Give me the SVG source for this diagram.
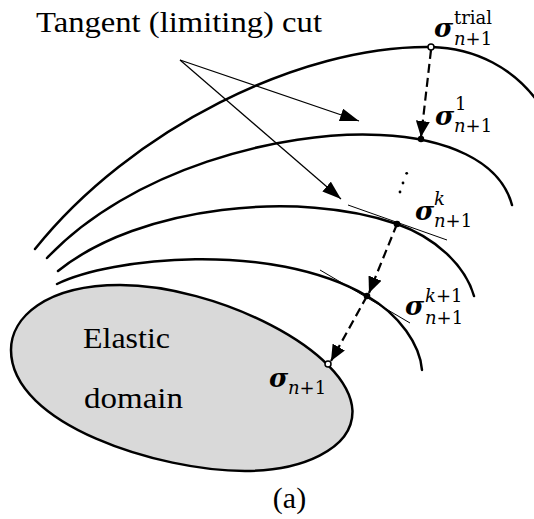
<svg xmlns="http://www.w3.org/2000/svg" width="534" height="519" viewBox="0 0 534 519">
<style>
.curve{fill:none;stroke:#000;stroke-width:2.5;stroke-linecap:round}
.tan{fill:none;stroke:#000;stroke-width:1}
.lead{fill:none;stroke:#000;stroke-width:1.2}
.dash{fill:none;stroke:#000;stroke-width:2.2;stroke-dasharray:9 5}
.txt{font-family:"Liberation Serif","Times New Roman",serif;font-size:30px;fill:#000}
.sig{font-family:"DejaVu Serif",serif;font-weight:bold;font-style:italic;font-size:26px;fill:#000}
.scr{font-family:"DejaVu Serif",serif;font-size:18px;fill:#000}
.it{font-style:italic}
</style>
<defs>
<marker id="ah" viewBox="0 0 16 14" refX="16" refY="7" markerWidth="16" markerHeight="14" markerUnits="userSpaceOnUse" orient="auto">
<path d="M0,0 L16,7 L0,14 Z" fill="#000"/>
</marker>
<marker id="la" viewBox="0 0 19 13" refX="19" refY="6.5" markerWidth="19" markerHeight="13" markerUnits="userSpaceOnUse" orient="auto">
<path d="M0,0 L19,6.5 L0,13 Z" fill="#000"/>
</marker>
</defs>
<g id="elastic-domain">
<path d="M11,350 C11,318 45,285 120,285 C215,285 350,350 352.5,411 C353,450 300,471 245,471 C160,471 11,425 11,350 Z" fill="#d9d9d9" stroke="#000" stroke-width="2.5"/>
<text class="txt" x="83" y="348" textLength="87" lengthAdjust="spacingAndGlyphs">Elastic</text>
<text class="txt" x="84" y="408" textLength="99" lengthAdjust="spacingAndGlyphs">domain</text>
</g>
<g id="surfaces">
<path id="surface-trial" class="curve" d="M35,249 C130,130 300,45 431,47 C475,48 515,68 540,105"/>
<path id="surface-1" class="curve" d="M47,258 C130,170 280,130 380,135 C445,138 500,160 512,205"/>
<path id="surface-k" class="curve" d="M58,271 C140,205 300,190 397,224 C435,237.3 465,265 474,296"/>
<path id="surface-k1" class="curve" d="M57,284 C110,258 270,240 367,296 C400,315 420,345 422,370"/>
</g>
<g id="connectors">
<line class="tan" x1="348" y1="205" x2="447" y2="240"/>
<line class="tan" x1="320" y1="270" x2="410" y2="323"/>
<line class="lead" x1="180" y1="60" x2="359" y2="121" marker-end="url(#la)"/>
<line class="lead" x1="180" y1="60" x2="341" y2="199" marker-end="url(#la)"/>
<line class="dash" x1="431" y1="50" x2="421" y2="137" marker-end="url(#ah)"/>
<line class="dash" x1="397" y1="224" x2="369" y2="293" marker-end="url(#ah)"/>
<line class="dash" x1="367" y1="296" x2="331" y2="361" marker-end="url(#ah)"/>
</g>
<g id="points">
<circle cx="431" cy="47" r="3" fill="#fff" stroke="#000" stroke-width="1.5"/>
<circle cx="421" cy="139" r="3.2" fill="#000"/>
<circle cx="397" cy="224" r="3.3" fill="#000"/>
<circle cx="367" cy="296" r="3.3" fill="#000"/>
<circle cx="328" cy="364" r="3" fill="#fff" stroke="#000" stroke-width="1.5"/>
<circle cx="406.7" cy="173.3" r="1.4" fill="#000"/>
<circle cx="403" cy="183" r="1.4" fill="#000"/>
<circle cx="400" cy="192" r="1.4" fill="#000"/>
</g>
<g id="labels">
<text class="txt" x="36" y="32" textLength="286" lengthAdjust="spacingAndGlyphs">Tangent (limiting) cut</text>
<text class="sig" x="434" y="37">σ</text>
<text class="scr" x="454" y="24">trial</text>
<text class="scr" x="454" y="45"><tspan class="it">n</tspan>+1</text>
<text class="sig" x="435" y="125">σ</text>
<text class="scr" x="455" y="110">1</text>
<text class="scr" x="454" y="132"><tspan class="it">n</tspan>+1</text>
<text class="sig" x="415" y="220">σ</text>
<text class="scr it" x="434" y="205">k</text>
<text class="scr" x="434" y="227"><tspan class="it">n</tspan>+1</text>
<text class="sig" x="405" y="315">σ</text>
<text class="scr" x="425" y="302"><tspan class="it">k</tspan>+1</text>
<text class="scr" x="425" y="324"><tspan class="it">n</tspan>+1</text>
<text class="sig" x="269" y="387">σ</text>
<text class="scr" x="288" y="394"><tspan class="it">n</tspan>+1</text>
<text class="txt" x="289.5" y="508" text-anchor="middle">(a)</text>
</g>
</svg>
